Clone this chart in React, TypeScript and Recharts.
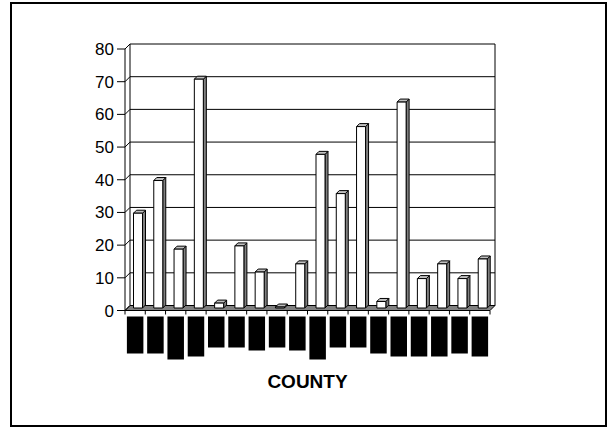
import { BarChart, Bar, XAxis, YAxis, CartesianGrid } from 'recharts'

// county names are blacked out in the source, so the labels are redacted blocks
const countyLabels = [
  '███████████',
  '███████████',
  '█████████████',
  '████████████',
  '█████████',
  '█████████',
  '██████████',
  '█████████',
  '██████████',
  '█████████████',
  '█████████',
  '█████████',
  '███████████',
  '████████████',
  '████████████',
  '████████████',
  '███████████',
  '████████████',
]

const values = [29, 39, 18, 70, 1.5, 19, 11, 0.3, 13.5, 47, 35, 55.5, 2, 63, 9, 13.5, 9, 15]

const yTicks = [0, 10, 20, 30, 40, 50, 60, 70, 80]

const data = countyLabels.map((county, i) => ({ county, value: values[i] }))

const CHART_W = 593
const CHART_H = 421
const PLOT_W = 365
const WALL_DX = 5
const WALL_DY = 5
const BAR_DX = 3
const BAR_DY = 3

function WallLine(props: any) {
  const { x1, x2, y1, y, height, index } = props
  const bottom = y + height
  const isFloor = Math.abs(y1 - bottom) < 0.5 || index === 0
  const isTop = Math.abs(y1 - y) < 0.5
  return (
    <g>
      {isFloor ? (
        <polygon
          points={`${x1},${y1} ${x2},${y1} ${x2 + WALL_DX},${y1 - WALL_DY} ${x1 + WALL_DX},${y1 - WALL_DY}`}
          fill="#808080"
          stroke="#000"
          strokeWidth={1}
        />
      ) : (
        <line x1={x1 + WALL_DX} y1={y1 - WALL_DY} x2={x2 + WALL_DX} y2={y1 - WALL_DY} stroke="#000" strokeWidth={1} />
      )}
      <line x1={x1} y1={y1} x2={x1 + WALL_DX} y2={y1 - WALL_DY} stroke="#000" strokeWidth={1} />
      {isTop && (
        <>
          <line x1={x1 + WALL_DX} y1={y1 - WALL_DY} x2={x1 + WALL_DX} y2={bottom - WALL_DY} stroke="#000" strokeWidth={1} />
          <line x1={x2 + WALL_DX} y1={y1 - WALL_DY} x2={x2 + WALL_DX} y2={bottom - WALL_DY} stroke="#000" strokeWidth={1} />
        </>
      )}
    </g>
  )
}

function Bar3D(props: any) {
  const { x, y, width, height } = props
  if (x == null || y == null) return null
  const fx = x + 2.5
  const fy = y - 2.5
  const w = width
  const h = Math.max(height, 0.5)
  return (
    <g stroke="#000" strokeWidth={1} strokeLinejoin="round">
      <polygon
        points={`${fx + w},${fy} ${fx + w + BAR_DX},${fy - BAR_DY} ${fx + w + BAR_DX},${fy + h - BAR_DY} ${fx + w},${fy + h}`}
        fill="#808080"
      />
      <polygon
        points={`${fx},${fy} ${fx + BAR_DX},${fy - BAR_DY} ${fx + w + BAR_DX},${fy - BAR_DY} ${fx + w},${fy}`}
        fill="#c0c0c0"
      />
      <rect x={fx} y={fy} width={w} height={h} fill="#fff" />
    </g>
  )
}

function CountyTick(props: any) {
  const { x, y, payload, index } = props
  const label = String(payload.value)
  const band = PLOT_W / countyLabels.length
  const boxH = label.length * 3 + 4
  const boxW = 16.5
  const top = y + 6
  return (
    <g>
      <line x1={x - band / 2} y1={y} x2={x - band / 2} y2={y + 4} stroke="#000" />
      {index === countyLabels.length - 1 && (
        <line x1={x + band / 2} y1={y} x2={x + band / 2} y2={y + 4} stroke="#000" />
      )}
      <rect x={x - boxW / 2} y={top} width={boxW} height={boxH} fill="#000" />
      <text
        x={x}
        y={top + 1}
        transform={`rotate(90 ${x} ${top + 1})`}
        fontSize={10}
        fill="#000"
        dominantBaseline="central"
        textLength={boxH - 2}
        lengthAdjust="spacingAndGlyphs"
      >
        {label}
      </text>
    </g>
  )
}

function AxisTitle(props: any) {
  const vb = props.viewBox || { x: 113, y: 306.5, width: PLOT_W }
  return (
    <text
      x={vb.x + vb.width / 2}
      y={vb.y + 71}
      textAnchor="middle"
      dominantBaseline="central"
      fontSize={19}
      fontWeight="bold"
      fill="#000"
    >
      COUNTY
    </text>
  )
}

export default function App() {
  return (
    <div
      style={{
        position: 'absolute',
        left: 10,
        top: 2,
        width: 597,
        height: 425,
        border: '2px solid #000',
        boxSizing: 'border-box',
        background: '#fff',
        fontFamily: '"Liberation Sans", Arial, sans-serif',
      }}
    >
      <BarChart
        width={CHART_W}
        height={CHART_H}
        data={data}
        margin={{ top: 45, right: 115, bottom: 34.5, left: 53 }}
      >
        <CartesianGrid vertical={false} horizontal={(p: any) => <WallLine {...p} />} />
        <XAxis
          dataKey="county"
          interval={0}
          height={80}
          tickSize={0}
          tickMargin={0}
          tickLine={false}
          axisLine={{ stroke: '#000' }}
          tick={<CountyTick />}
          label={<AxisTitle />}
        />
        <YAxis
          domain={[0, 80]}
          ticks={yTicks}
          interval={0}
          width={60}
          tickSize={8}
          tickMargin={3}
          axisLine={{ stroke: '#000' }}
          tickLine={{ stroke: '#000' }}
          tick={{ fontSize: 17, fill: '#000' }}
        />
        <Bar dataKey="value" barSize={9} fill="#fff" shape={(p: any) => <Bar3D {...p} />} isAnimationActive={false} />
      </BarChart>
    </div>
  )
}
